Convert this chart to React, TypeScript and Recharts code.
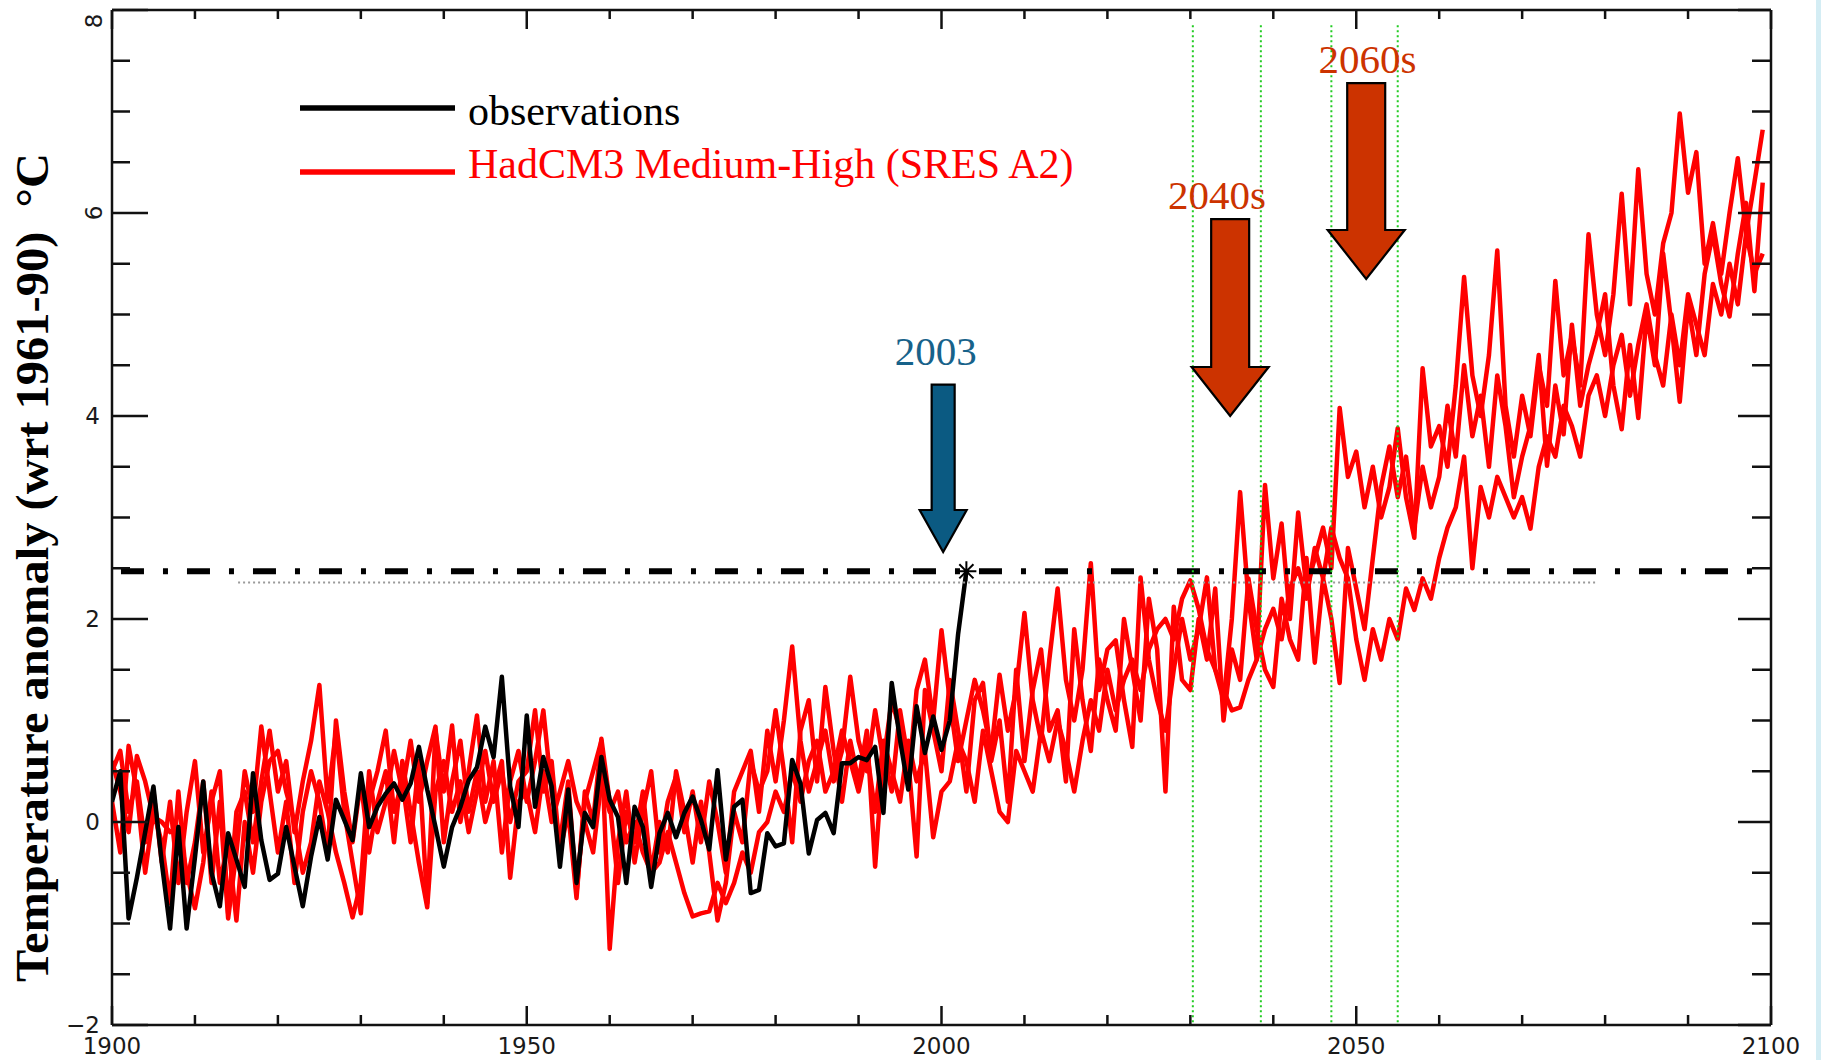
import React from 'react';
import { LineChart, Line, XAxis, YAxis, ReferenceLine, ReferenceDot, Legend, Label } from 'recharts';

// ---------- data (annual anomalies, °C wrt 1961-90) ----------
const startYear = 1900;

const observations = [
  0.2, 0.5, -0.95, -0.55, -0.1, 0.35, -0.4, -1.05, -0.05, -1.05,
  -0.35, 0.4, -0.5, -0.83, -0.11, -0.37, -0.64, 0.48, -0.18, -0.57,
  -0.51, -0.05, -0.44, -0.83, -0.34, 0.05, -0.37, 0.22, 0.02, -0.18,
  0.48, -0.05, 0.15, 0.28, 0.38, 0.22, 0.38, 0.74, 0.32, -0.05,
  -0.44, -0.05, 0.15, 0.41, 0.54, 0.94, 0.64, 1.43, 0.35, -0.05,
  1.05, 0.15, 0.64, 0.35, -0.44, 0.32, -0.6, 0.09, -0.05, 0.64,
  0.22, 0.05, -0.6, 0.15, -0.05, -0.64, -0.11, 0.09, -0.15, 0.09,
  0.25, 0.02, -0.27, 0.51, -0.37, 0.15, 0.22, -0.7, -0.67, -0.11,
  -0.24, -0.21, 0.61, 0.38, -0.31, 0.02, 0.09, -0.11, 0.58, 0.58,
  0.64, 0.61, 0.74, 0.09, 1.37, 0.81, 0.32, 1.14, 0.68, 1.04,
  0.71, 1.0, 1.85, 2.47,
];

const runA = [
  0.5, 0.7, 0.1, 0.4, -0.2, 0.3, -0.4, 0.2, -0.6, 0.1,
  0.6, -0.3, 0.2, 0.5, -0.9, 0.1, 0.3, -0.2, 0.4, 0.9,
  0.3, 0.6, -0.1, 0.4, 0.8, 1.35, 0.2, 0.9, 0.1, -0.4,
  -0.9, 0.2, 0.5, 0.9, 0.1, 0.4, -0.2, 0.6, -0.8, 0.9,
  0.3, 0.95, 0.0, 0.5, 1.05, 0.2, 0.6, -0.3, 0.4, 0.7,
  0.2, 0.6, 1.1, 0.3, -0.2, 0.4, -0.7, 0.2, 0.5, 0.8,
  -1.25, -0.2, 0.3, -0.4, 0.1, 0.5, -0.3, 0.2, 0.45, -0.1,
  0.3, -0.2, 0.4, 0.0, -0.5, 0.3, 0.5, 0.7, 0.1, 0.9,
  0.4, 1.0, 1.73, 0.8, 0.3, 0.6, 0.9, 0.4, 0.7, 1.43,
  0.8, 0.5, 1.1, 0.6, 1.2, 0.9, 0.4, 1.3, 1.6, 1.0,
  1.89, 1.2, 0.6, 1.0, 1.4, 1.1, 0.7, 1.45, 0.9, 1.3,
  2.06, 1.2, 0.8, 1.6, 2.3, 1.4, 1.0, 1.5, 2.55, 1.3,
  1.7, 1.79, 1.2, 0.74, 2.41, 1.6, 1.2, 0.9, 1.5, 2.0,
  1.6, 1.9, 2.41, 1.5, 1.2, 2.0, 3.25, 2.2, 1.6, 3.32,
  2.4, 2.94, 2.0, 3.05, 2.3, 2.6, 2.9, 2.5, 4.08, 3.4,
  3.65, 3.1, 3.5, 3.0, 3.3, 3.88, 3.2, 2.8, 4.47, 3.7,
  3.9, 3.5, 4.3, 5.37, 4.4, 4.0, 4.6, 5.63, 4.1, 3.6,
  4.2, 3.8, 4.5, 4.1, 5.33, 4.4, 4.8, 4.3, 5.79, 5.0,
  4.6, 5.2, 6.19, 5.1, 6.43, 5.4, 5.0, 5.7, 6.0, 6.98,
  6.2, 6.6, 5.5, 5.9, 5.4, 6.0, 6.54, 5.8, 6.3, 6.82,
];

const runB = [
  0.2, -0.3, 0.75, 0.3, -0.5, 0.1, -0.2, -0.8, 0.3, -0.6,
  -0.2, 0.4, -0.6, 0.2, -0.95, -0.3, 0.5, 0.1, 0.94, 0.3,
  -0.3, 0.2, -0.6, 0.1, 0.5, 0.2, -0.3, 1.0, 0.3, -0.2,
  0.4, -0.3, 0.2, 0.5, -0.2, 0.6, 0.1, -0.4, -0.84, 0.3,
  0.6, 0.1, 0.4, -0.1, 0.3, 0.7, 0.2, 0.5, 0.0, 0.4,
  0.5, 1.1, 0.3, 0.6, -0.3, 0.1, -0.75, 0.3, 0.0, 0.82,
  0.2, -0.6, 0.1, -0.2, 0.3, -0.5, 0.0, -0.3, 0.5, 0.1,
  -0.4, 0.2, -0.3, -0.97, -0.6, 0.1, -0.2, 0.6, 0.3, 0.5,
  1.1, 0.5, -0.2, 0.9, 1.2, 0.4, 1.33, 0.7, 0.2, 0.8,
  0.4, 0.9, -0.44, 0.7, 0.3, 1.1, 0.6, -0.34, 1.3, 0.9,
  0.5, 1.4, 0.9, 0.3, 1.2, 1.37, 0.6, 1.0, 0.2, 1.5,
  0.6, 1.3, 1.7, 0.9, 1.1, 0.4, 1.9, 1.2, 0.7, 1.6,
  1.2, 0.9, 2.0, 1.5, 1.0, 2.2, 1.7, 0.3, 2.12, 1.4,
  1.3, 2.0, 1.6, 2.3, 1.0, 1.7, 1.4, 2.4, 1.9, 1.5,
  1.33, 2.2, 1.8, 1.6, 2.6, 1.57, 2.4, 2.0, 1.37, 2.7,
  2.3, 1.9, 2.6, 3.3, 3.7, 3.2, 3.6, 2.9, 3.5, 3.1,
  3.4, 4.1, 3.6, 4.5, 3.8, 4.2, 3.5, 4.4, 3.9, 3.2,
  3.6, 3.9, 4.6, 3.51, 4.3, 3.82, 4.9, 4.1, 4.5, 4.8,
  5.2, 4.3, 3.87, 4.7, 3.98, 5.0, 4.5, 5.6, 4.9, 4.14,
  5.1, 4.6, 5.4, 5.8, 5.3, 4.98, 5.6, 6.1, 5.23, 6.3,
];

const runC = [
  0.6, 0.3, -0.1, 0.65, 0.4, 0.05, 0.0, -0.1, -0.05, -0.5,
  -0.85, -0.4, 0.3, -0.6, -0.2, -0.97, 0.0, -0.5, 0.2, 0.6,
  0.7, 0.3, 0.0, -0.5, -0.2, 0.4, 0.1, -0.3, -0.6, -0.94,
  -0.6, 0.5, -0.1, 0.2, 0.7, 0.3, 0.8, 0.2, 0.6, 0.94,
  -0.2, 0.4, 0.8, 0.1, 0.5, 0.0, 0.3, 0.6, -0.55, 0.2,
  0.3, -0.1, 0.5, 0.0, 0.3, 0.6, 0.2, 0.0, -0.3, 0.4,
  0.1, 0.3, -0.2, 0.0, -0.3, -0.5, -0.4, -0.1, -0.4, -0.7,
  -0.93, -0.9, -0.88, -0.6, -0.8, -0.6, -0.3, -0.5, -0.1, 0.0,
  0.3, 0.1, 0.5, 0.2, 0.6, 0.8, 0.3, 0.5, 0.9, 0.6,
  0.3, 0.7, 0.1, 0.8, 0.5, 0.2, 0.8, 0.4, 0.7, -0.15,
  0.3, 0.4, 0.8, 0.6, 0.2, 0.9, 0.5, 0.1, 0.0, 0.7,
  0.5, 0.3, 0.9, 0.6, 1.0, 0.7, 0.3, 0.8, 1.2, 0.9,
  1.5, 1.1, 1.4, 1.6, 1.3, 1.7, 1.9, 2.0, 1.8, 2.2,
  2.38, 2.1, 1.7, 1.5, 1.3, 1.1, 1.13, 1.4, 1.6, 1.9,
  2.1, 1.8, 2.3, 2.5, 2.2, 2.7, 2.4, 2.9, 2.6, 2.4,
  1.8, 1.4, 1.9, 1.6, 2.0, 1.8, 2.3, 2.09, 2.4, 2.2,
  2.6, 2.9, 3.1, 3.6, 2.5, 3.3, 3.0, 3.4, 3.2, 3.0,
  3.2, 2.89, 3.5, 3.8, 3.6, 4.1, 3.9, 3.6, 4.2, 4.4,
  4.0, 4.5, 4.8, 4.2, 4.7, 5.1, 4.6, 4.3, 5.0, 4.5,
  5.2, 4.9, 4.6, 5.3, 5.0, 5.5, 5.1, 5.8, 5.4, 5.6,
];

// axis ticks
const xTicks = [1900, 1910, 1920, 1930, 1940, 1950, 1960, 1970, 1980, 1990, 2000,
  2010, 2020, 2030, 2040, 2050, 2060, 2070, 2080, 2090, 2100];
const xLabelTicks = [1900, 1950, 2000, 2050, 2100];
const yTicks = [-2, -1.5, -1, -0.5, 0, 0.5, 1, 1.5, 2, 2.5, 3, 3.5, 4, 4.5, 5, 5.5, 6, 6.5, 7, 7.5, 8];
const yLabelTicks = [-2, 0, 2, 4, 6, 8];
const rotatedYLabels = [6, 8];

// reference lines
const heatwaveValue = 2.47;
const heatwaveSpan = [1900.6, 2098];
const greyValue = 2.36;
const greySpan = [1915.2, 2079];
const decadeLineYears = [2030.3, 2038.5, 2047, 2055];
const decadeLineTop = 7.85;
const starYear = 2003;

// annotation arrows
const arrowLabels = ['2003', '2040s', '2060s'];
const arrowYears = [2000.2, 2034.8, 2051.2];
const arrowTops = [4.31, 5.94, 7.28];
const arrowTips = [2.66, 4.0, 5.35];
const labelYears = [1999.3, 2033.2, 2051.35];
const labelValues = [4.5, 6.04, 7.38];
const arrowFills = ['#0b5a82', '#cc3300', '#cc3300'];
const labelColors = ['#17628a', '#cc3300', '#cc3300'];
const shaftHalf = [11.5, 19, 19];
const headHalf = [23.5, 38.5, 38.5];
const headLen = [42, 49, 49];

const seriesNames = {
  obs: 'observations',
  model: 'HadCM3 Medium-High (SRES A2)',
};

const data = runA.map((a, i) => ({
  year: startYear + i,
  obs: i < observations.length ? observations[i] : null,
  a,
  b: runB[i],
  c: runC[i],
}));

// ---------- styling helpers ----------
const AXIS = '#111';
const TICK_FONT = '"DejaVu Sans", sans-serif';
const SERIF = '"Liberation Serif", "Times New Roman", serif';

const fmt = (v: number) => (v < 0 ? `\u2212${-v}` : `${v}`);

const BottomTick = (p: any) => {
  const v = p.payload.value;
  const major = xLabelTicks.includes(v);
  return (
    <g>
      <line x1={p.x} x2={p.x} y1={p.y} y2={p.y - (major ? 19 : 10)} stroke={AXIS} strokeWidth={2.5} />
      {major && (
        <text x={p.x} y={p.y + 29} textAnchor="middle" fontFamily={TICK_FONT} fontSize={23} fill="#1a1a1a">
          {v}
        </text>
      )}
    </g>
  );
};

const TopTick = (p: any) => {
  const v = p.payload.value;
  const major = xLabelTicks.includes(v);
  return <line x1={p.x} x2={p.x} y1={p.y} y2={p.y + (major ? 19 : 9)} stroke={AXIS} strokeWidth={2.5} />;
};

const LeftTick = (p: any) => {
  const v = p.payload.value;
  const major = yLabelTicks.includes(v);
  const rotated = rotatedYLabels.includes(v);
  const ly = v === 8 ? p.y + 11 : p.y;
  return (
    <g>
      <line x1={p.x} x2={p.x + (major ? 36 : 18)} y1={p.y} y2={p.y} stroke={AXIS} strokeWidth={2.5} />
      {major && !rotated && (
        <text x={p.x - 12} y={p.y} textAnchor="end" dominantBaseline="central" fontFamily={TICK_FONT} fontSize={23} fill="#1a1a1a">
          {fmt(v)}
        </text>
      )}
      {major && rotated && (
        <text
          x={p.x - 18}
          y={ly}
          textAnchor="middle"
          dominantBaseline="central"
          transform={`rotate(-90 ${p.x - 18} ${ly})`}
          fontFamily={TICK_FONT}
          fontSize={23}
          fill="#1a1a1a"
        >
          {fmt(v)}
        </text>
      )}
    </g>
  );
};

const RightTick = (p: any) => {
  const v = p.payload.value;
  const major = yLabelTicks.includes(v);
  return <line x1={p.x} x2={p.x - (major ? 33 : 19)} y1={p.y} y2={p.y} stroke={AXIS} strokeWidth={2.5} />;
};

const YTitle = (props: any) => {
  const vb = props.viewBox || { x: 111, y: 10, width: 1, height: 1015 };
  const cx = vb.x + vb.width - 64;
  const cy = vb.y + vb.height / 2 + 50;
  return (
    <text
      x={0}
      y={0}
      transform={`translate(${cx} ${cy}) rotate(-90)`}
      textAnchor="middle"
      fontFamily={SERIF}
      fontWeight="bold"
      fontSize={46}
      fill="#000"
      textLength={829}
      lengthAdjust="spacingAndGlyphs"
      style={{ whiteSpace: 'pre' }}
    >
      {'Temperature anomaly (wrt 1961-90)  \u00B0C'}
    </text>
  );
};

const renderLegend = (props: any) => {
  const order = [seriesNames.obs, seriesNames.model];
  const items = (props.payload || [])
    .filter((e: any) => order.includes(e.value))
    .sort((a: any, b: any) => order.indexOf(a.value) - order.indexOf(b.value));
  const lineY = [38, 102];
  const textY = [55, 108];
  return (
    <svg width={900} height={140} style={{ display: 'block' }}>
      {items.map((e: any, i: number) => (
        <g key={e.value}>
          <line x1={50} x2={205} y1={lineY[i]} y2={lineY[i]} stroke={e.color} strokeWidth={5.5} />
          <text x={218} y={textY[i]} fontFamily={SERIF} fontSize={42} fill={e.color}>
            {e.value}
          </text>
        </g>
      ))}
    </svg>
  );
};

const makeArrow = (i: number) => (p: any) => {
  const x = p.x1;
  const top = Math.min(p.y1, p.y2);
  const tip = Math.max(p.y1, p.y2);
  const hy = tip - headLen[i];
  const s = shaftHalf[i];
  const h = headHalf[i];
  const pts = [
    [x - s, top], [x + s, top], [x + s, hy], [x + h, hy], [x, tip], [x - h, hy], [x - s, hy],
  ].map((q) => q.join(',')).join(' ');
  return <polygon points={pts} fill={arrowFills[i]} stroke="#000" strokeWidth={2.2} strokeLinejoin="miter" />;
};

const makeLabel = (i: number) => (p: any) => (
  <text x={p.cx} y={p.cy} textAnchor="middle" fontFamily={SERIF} fontSize={41} fill={labelColors[i]}>
    {arrowLabels[i]}
  </text>
);

const Asterisk = (p: any) => {
  const r = 10;
  const { cx, cy } = p;
  const d = [0, 45, 90, 135]
    .map((deg) => {
      const a = (deg * Math.PI) / 180;
      return `M${cx - r * Math.cos(a)},${cy - r * Math.sin(a)}L${cx + r * Math.cos(a)},${cy + r * Math.sin(a)}`;
    })
    .join('');
  return <path d={d} stroke="#000" strokeWidth={2} fill="none" />;
};

const RED = '#ff0000';

export default function App() {
  return (
    <div style={{ position: 'absolute', left: 0, top: 0, width: 1821, height: 1060, background: '#fff' }}>
      <LineChart width={1821} height={1060} data={data} margin={{ top: 9, right: 49, bottom: 34, left: 111 }}>
        <XAxis
          xAxisId="b"
          dataKey="year"
          type="number"
          domain={[1900, 2100]}
          ticks={xTicks}
          interval={0}
          height={1}
          tickSize={0}
          tickMargin={0}
          tickLine={false}
          tick={BottomTick}
          axisLine={{ stroke: AXIS, strokeWidth: 2.5 }}
          allowDataOverflow
        />
        <XAxis
          xAxisId="t"
          orientation="top"
          dataKey="year"
          type="number"
          domain={[1900, 2100]}
          ticks={xTicks}
          interval={0}
          height={1}
          tickSize={0}
          tickMargin={0}
          tickLine={false}
          tick={TopTick}
          axisLine={{ stroke: AXIS, strokeWidth: 2.5 }}
          allowDataOverflow
        />
        <YAxis
          yAxisId="l"
          type="number"
          domain={[-2, 8]}
          ticks={yTicks}
          interval={0}
          width={1}
          tickSize={0}
          tickMargin={0}
          tickLine={false}
          tick={LeftTick}
          axisLine={{ stroke: AXIS, strokeWidth: 2.5 }}
          allowDataOverflow
          label={<Label content={YTitle} />}
        />
        <YAxis
          yAxisId="r"
          orientation="right"
          type="number"
          domain={[-2, 8]}
          ticks={yTicks}
          interval={0}
          width={1}
          tickSize={0}
          tickMargin={0}
          tickLine={false}
          tick={RightTick}
          axisLine={{ stroke: AXIS, strokeWidth: 2.5 }}
          allowDataOverflow
        />

        <Line xAxisId="b" yAxisId="l" type="linear" dataKey="c" stroke={RED} strokeWidth={4.5} strokeLinejoin="round" dot={false} isAnimationActive={false} legendType="none" />
        <Line xAxisId="b" yAxisId="l" type="linear" dataKey="b" stroke={RED} strokeWidth={4.5} strokeLinejoin="round" dot={false} isAnimationActive={false} legendType="none" />
        <Line xAxisId="b" yAxisId="l" type="linear" dataKey="a" name={seriesNames.model} stroke={RED} strokeWidth={4.5} strokeLinejoin="round" dot={false} isAnimationActive={false} />
        <Line xAxisId="b" yAxisId="l" type="linear" dataKey="obs" name={seriesNames.obs} stroke="#000000" strokeWidth={4.5} strokeLinejoin="round" dot={false} isAnimationActive={false} />

        <ReferenceLine
          xAxisId="b"
          yAxisId="l"
          segment={[{ x: greySpan[0], y: greyValue }, { x: greySpan[1], y: greyValue }]}
          stroke="#9a9a9a"
          strokeWidth={2}
          strokeDasharray="2 3"
        />
        <ReferenceLine
          xAxisId="b"
          yAxisId="l"
          segment={[{ x: heatwaveSpan[0], y: heatwaveValue }, { x: heatwaveSpan[1], y: heatwaveValue }]}
          stroke="#000"
          strokeWidth={6}
          strokeDasharray="23 19 5 19"
          strokeDashoffset={62}
        />
        {decadeLineYears.map((yr) => (
          <ReferenceLine
            key={`g${yr}`}
            xAxisId="b"
            yAxisId="l"
            segment={[{ x: yr, y: decadeLineTop }, { x: yr, y: -2 }]}
            stroke="#22cc22"
            strokeWidth={2}
            strokeDasharray="2 3"
          />
        ))}
        <ReferenceDot xAxisId="b" yAxisId="l" x={starYear} y={heatwaveValue} r={10} shape={Asterisk} />

        {arrowYears.map((yr, i) => (
          <ReferenceLine
            key={`arr${i}`}
            xAxisId="b"
            yAxisId="l"
            segment={[{ x: yr, y: arrowTops[i] }, { x: yr, y: arrowTips[i] }]}
            shape={makeArrow(i)}
          />
        ))}
        {labelYears.map((yr, i) => (
          <ReferenceDot key={`lab${i}`} xAxisId="b" yAxisId="l" x={yr} y={labelValues[i]} r={1} shape={makeLabel(i)} />
        ))}

        <Legend
          layout="vertical"
          align="center"
          verticalAlign="middle"
          content={renderLegend}
          wrapperStyle={{ position: 'absolute', left: 250, top: 70, width: 900, height: 140 }}
        />
      </LineChart>
      <div style={{ position: 'absolute', left: 1816, top: 0, width: 5, height: 1060, background: '#d4edf4' }} />
    </div>
  );
}
